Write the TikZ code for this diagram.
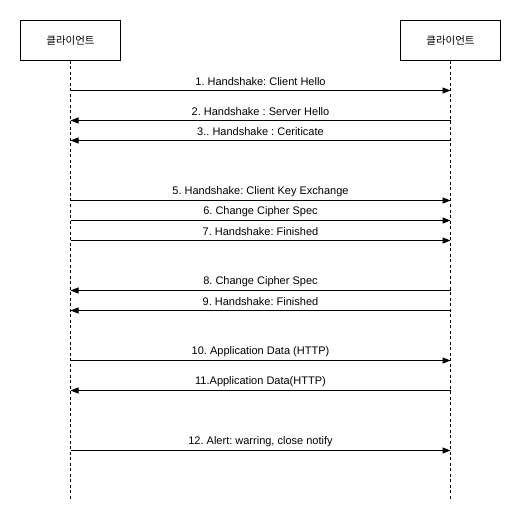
\documentclass[tikz,border=0pt]{standalone}
\usepackage{fontspec}
\setmainfont{Liberation Sans}
\newfontfamily\krfont{Noto Sans CJK KR}
\usetikzlibrary{arrows.meta,calc}
\frenchspacing
\begin{document}
\begin{tikzpicture}[x=1pt,y=-1pt,
  actor/.style={draw=black, line width=1pt, minimum width=100pt, minimum height=40pt, inner sep=0pt, font=\krfont\fontsize{10.5}{12}\selectfont},
  lifeline/.style={line width=1pt, dash pattern=on 3pt off 2.5pt},
  msg/.style={line width=1pt, -{Triangle[length=8pt,width=6pt]}},
  lbl/.style={font=\frenchspacing\fontsize{11}{13}\selectfont, inner sep=0pt}]
\useasboundingbox (0,0) rectangle (521,521);
\fill[white] (0,0) rectangle (521,521);
\node[actor] (A) at (70.5,40.5) {클라이언트};
\node[actor] (B) at (450.5,40.5) {클라이언트};
\coordinate (Aend) at (70.5,500);
\coordinate (Bend) at (450.5,500);
\draw[lifeline] (A.south) -- (Aend);
\draw[lifeline] (B.south) -- (Bend);
\foreach \y/\dir/\t [count=\i] in {
  90.5/r/{1. Handshake: Client Hello},
  120.5/l/{2. Handshake : Server Hello},
  140.5/l/{3.. Handshake : Ceriticate},
  200.5/r/{5. Handshake: Client Key Exchange},
  220.5/r/{6. Change Cipher Spec},
  240.5/r/{7. Handshake: Finished},
  290.5/l/{8. Change Cipher Spec},
  310.5/l/{9. Handshake: Finished},
  360.5/r/{10. Application Data (HTTP)},
  390.5/l/{11.Application Data(HTTP)},
  450.5/r/{12. Alert: warring, close notify}}{
  \coordinate (a\i) at (70.5,\y);
  \coordinate (b\i) at (450.5,\y);
  \if\dir r
    \draw[msg] (a\i) -- (b\i);
  \else
    \draw[msg] (b\i) -- (a\i);
  \fi
  \node[lbl] (m\i) at ([yshift=8.5pt]$(a\i)!0.5!(b\i)$) {\t};
}
\end{tikzpicture}
\end{document}
